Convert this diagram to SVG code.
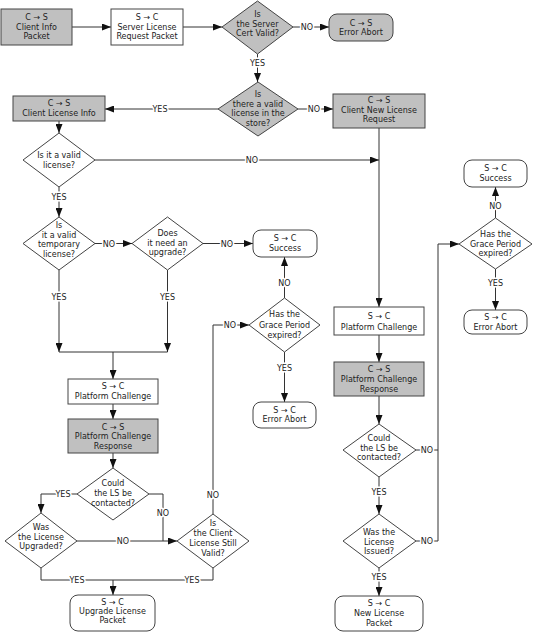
<svg xmlns="http://www.w3.org/2000/svg" width="533" height="632" viewBox="0 0 533 632">
<style>
text{font-family:"DejaVu Sans",Verdana,sans-serif;font-size:8px;fill:#222;text-anchor:middle}
.g{fill:#c0c0c0;stroke:#444;stroke-width:1}
.w{fill:#fff;stroke:#444;stroke-width:1}
.ln{fill:none;stroke:#333;stroke-width:1}
.ar{marker-end:url(#ah)}
.lb{stroke:#fff;stroke-width:3;paint-order:stroke;stroke-linejoin:round}
</style>
<defs>
<marker id="ah" markerUnits="userSpaceOnUse" markerWidth="9" markerHeight="7" refX="9" refY="3.5" orient="auto">
<path d="M0,0 L9,3.5 L0,7 z" fill="#111"/>
</marker>
</defs>
<rect width="533" height="632" fill="#fff"/>

<g id="connectors">
<path class="ln ar" d="M72,27 H111"/>
<path class="ln ar" d="M183,27 H222"/>
<path class="ln ar" d="M293,27 H329"/>
<path class="ln ar" d="M257.5,54 V82"/>
<path class="ln ar" d="M298,109 H333"/>
<path class="ln ar" d="M218,109 H105"/>
<path class="ln ar" d="M59,121 V133"/>
<path class="ln ar" d="M95,160 H379"/>
<path class="ln ar" d="M379,128 V307"/>
<path class="ln ar" d="M59,187 V217"/>
<path class="ln ar" d="M95,243.5 H132"/>
<path class="ln ar" d="M203,243.5 H253"/>
<path class="ln ar" d="M59,270 V352"/>
<path class="ln ar" d="M167.5,270 V352"/>
<path class="ln" d="M59,352 H167.5"/>
<path class="ln ar" d="M113,352 V379"/>
<path class="ln ar" d="M113,404 V419"/>
<path class="ln ar" d="M113,453 V468"/>
<path class="ln ar" d="M77,494 H41 V513"/>
<path class="ln" d="M149,494 H163 V541"/>
<path class="ln ar" d="M77,541 H177"/>
<path class="ln" d="M41,568 V580 H213 V568"/>
<path class="ln ar" d="M113,580 V595"/>
<path class="ln ar" d="M213,514 V325 H249"/>
<path class="ln ar" d="M284.5,298 V257"/>
<path class="ln ar" d="M284.5,352 V402"/>
<path class="ln ar" d="M379,335 V362"/>
<path class="ln ar" d="M379,396 V424"/>
<path class="ln" d="M416,450 H438"/>
<path class="ln ar" d="M416,541 H438 V244 H459"/>
<path class="ln ar" d="M379,477 V514"/>
<path class="ln ar" d="M379,568 V596"/>
<path class="ln ar" d="M495.5,218 V187"/>
<path class="ln ar" d="M495.5,269 V310"/>
<text class="lb" x="307" y="30">NO</text>
<text class="lb" x="257.5" y="66">YES</text>
<text class="lb" x="314" y="112">NO</text>
<text class="lb" x="160" y="112">YES</text>
<text class="lb" x="252" y="163">NO</text>
<text class="lb" x="59" y="200">YES</text>
<text class="lb" x="109" y="246.5">NO</text>
<text class="lb" x="227" y="246.5">NO</text>
<text class="lb" x="59" y="300">YES</text>
<text class="lb" x="167.5" y="300">YES</text>
<text class="lb" x="63" y="497">YES</text>
<text class="lb" x="163" y="516">NO</text>
<text class="lb" x="123" y="544">NO</text>
<text class="lb" x="77" y="583">YES</text>
<text class="lb" x="192" y="583">YES</text>
<text class="lb" x="213" y="498">NO</text>
<text class="lb" x="230" y="328">NO</text>
<text class="lb" x="284.5" y="286">NO</text>
<text class="lb" x="284.5" y="371">YES</text>
<text class="lb" x="427" y="453">NO</text>
<text class="lb" x="427" y="544">NO</text>
<text class="lb" x="379" y="495">YES</text>
<text class="lb" x="379" y="580">YES</text>
<text class="lb" x="495.5" y="209">NO</text>
<text class="lb" x="495.5" y="286">YES</text>
</g>

<g id="client-info-packet">
<rect class="g" x="1" y="9" width="71" height="36"/>
<text x="36.5" y="20">C → S</text><text x="36.5" y="30">Client Info</text><text x="36.5" y="39">Packet</text>
</g>
<g id="server-license-request">
<rect class="w" x="111" y="9" width="72" height="36"/>
<text x="147" y="20">S → C</text><text x="147" y="30">Server License</text><text x="147" y="39">Request Packet</text>
</g>
<g id="cert-valid">
<polygon class="g" points="257.5,1 293,27 257.5,54 222,27"/>
<text x="257.5" y="17">Is</text><text x="257.5" y="27">the Server</text><text x="257.5" y="36">Cert Valid?</text>
</g>
<g id="cs-error-abort">
<rect class="g" x="329" y="14" width="64" height="27" rx="8"/>
<text x="361" y="26">C → S</text><text x="361" y="35">Error Abort</text>
</g>
<g id="valid-license-store">
<polygon class="g" points="258,82 298,109 258,136 218,109"/>
<text x="258" y="97">Is</text><text x="258" y="106.5">there a valid</text><text x="258" y="116">license in the</text><text x="258" y="125.5">store?</text>
</g>
<g id="client-new-license-request">
<rect class="g" x="333" y="94" width="92" height="34"/>
<text x="379" y="103">C → S</text><text x="379" y="113">Client New License</text><text x="379" y="122">Request</text>
</g>
<g id="client-license-info">
<rect class="g" x="13" y="96" width="92" height="25"/>
<text x="59" y="106">C → S</text><text x="59" y="116">Client License Info</text>
</g>
<g id="valid-license">
<polygon class="w" points="59,133 95,160 59,187 23,160"/>
<text x="59" y="158">Is it a valid</text><text x="59" y="168">license?</text>
</g>
<g id="valid-temporary">
<polygon class="w" points="59,217 95,243.5 59,270 23,243.5"/>
<text x="59" y="228">Is</text><text x="59" y="237.7">it a valid</text><text x="59" y="247.3">temporary</text><text x="59" y="257">license?</text>
</g>
<g id="need-upgrade">
<polygon class="w" points="167.5,217 203,243.5 167.5,270 132,243.5"/>
<text x="167.5" y="236">Does</text><text x="167.5" y="246">it need an</text><text x="167.5" y="255">upgrade?</text>
</g>
<g id="success-mid">
<rect class="w" x="253" y="230" width="64" height="27" rx="8"/>
<text x="285" y="241">S → C</text><text x="285" y="251">Success</text>
</g>
<g id="grace-mid">
<polygon class="w" points="284.5,298 320,325 284.5,352 249,325"/>
<text x="284.5" y="317">Has the</text><text x="284.5" y="328">Grace Period</text><text x="284.5" y="338">expired?</text>
</g>
<g id="error-abort-mid">
<rect class="w" x="253" y="402" width="63" height="26" rx="8"/>
<text x="284.5" y="413">S → C</text><text x="284.5" y="422">Error Abort</text>
</g>
<g id="platform-challenge-left">
<rect class="w" x="68" y="379" width="90" height="25"/>
<text x="113" y="389">S → C</text><text x="113" y="399">Platform Challenge</text>
</g>
<g id="platform-response-left">
<rect class="g" x="68" y="419" width="90" height="34"/>
<text x="113" y="430">C → S</text><text x="113" y="439">Platform Challenge</text><text x="113" y="449">Response</text>
</g>
<g id="ls-contacted-left">
<polygon class="w" points="113,468 149,494 113,520 77,494"/>
<text x="113" y="486">Could</text><text x="113" y="496">the LS be</text><text x="113" y="506">contacted?</text>
</g>
<g id="license-upgraded">
<polygon class="w" points="41,513 77,541 41,568 5,541"/>
<text x="41" y="530">Was</text><text x="41" y="540">the License</text><text x="41" y="549">Upgraded?</text>
</g>
<g id="client-license-still-valid">
<polygon class="w" points="213,514 249,541 213,568 177,541"/>
<text x="213" y="526">Is</text><text x="213" y="536">the Client</text><text x="213" y="546">License Still</text><text x="213" y="556">Valid?</text>
</g>
<g id="upgrade-license-packet">
<rect class="w" x="70" y="595" width="85" height="36" rx="8"/>
<text x="112.5" y="605">S → C</text><text x="112.5" y="614">Upgrade License</text><text x="112.5" y="623">Packet</text>
</g>
<g id="platform-challenge-right">
<rect class="w" x="334" y="307" width="90" height="28"/>
<text x="379" y="319">S → C</text><text x="379" y="330">Platform Challenge</text>
</g>
<g id="platform-response-right">
<rect class="g" x="334" y="362" width="90" height="34"/>
<text x="379" y="372">C → S</text><text x="379" y="382">Platform Challenge</text><text x="379" y="392">Response</text>
</g>
<g id="ls-contacted-right">
<polygon class="w" points="379,424 416,450 379,477 343,450"/>
<text x="379" y="441">Could</text><text x="379" y="450.5">the LS be</text><text x="379" y="460">contacted?</text>
</g>
<g id="license-issued">
<polygon class="w" points="379,514 416,541 379,568 343,541"/>
<text x="379" y="535">Was the</text><text x="379" y="544.5">License</text><text x="379" y="554">Issued?</text>
</g>
<g id="new-license-packet">
<rect class="w" x="335" y="596" width="88" height="35" rx="8"/>
<text x="379" y="606">S → C</text><text x="379" y="616">New License</text><text x="379" y="626">Packet</text>
</g>
<g id="success-right">
<rect class="w" x="464" y="160" width="63" height="27" rx="8"/>
<text x="495.5" y="171">S → C</text><text x="495.5" y="181">Success</text>
</g>
<g id="grace-right">
<polygon class="w" points="495.5,218 532,244 495.5,269 459,244"/>
<text x="495.5" y="237">Has the</text><text x="495.5" y="247">Grace Period</text><text x="495.5" y="256">expired?</text>
</g>
<g id="error-abort-right">
<rect class="w" x="464" y="310" width="63" height="24" rx="8"/>
<text x="495.5" y="320">S → C</text><text x="495.5" y="330">Error Abort</text>
</g>
</svg>
